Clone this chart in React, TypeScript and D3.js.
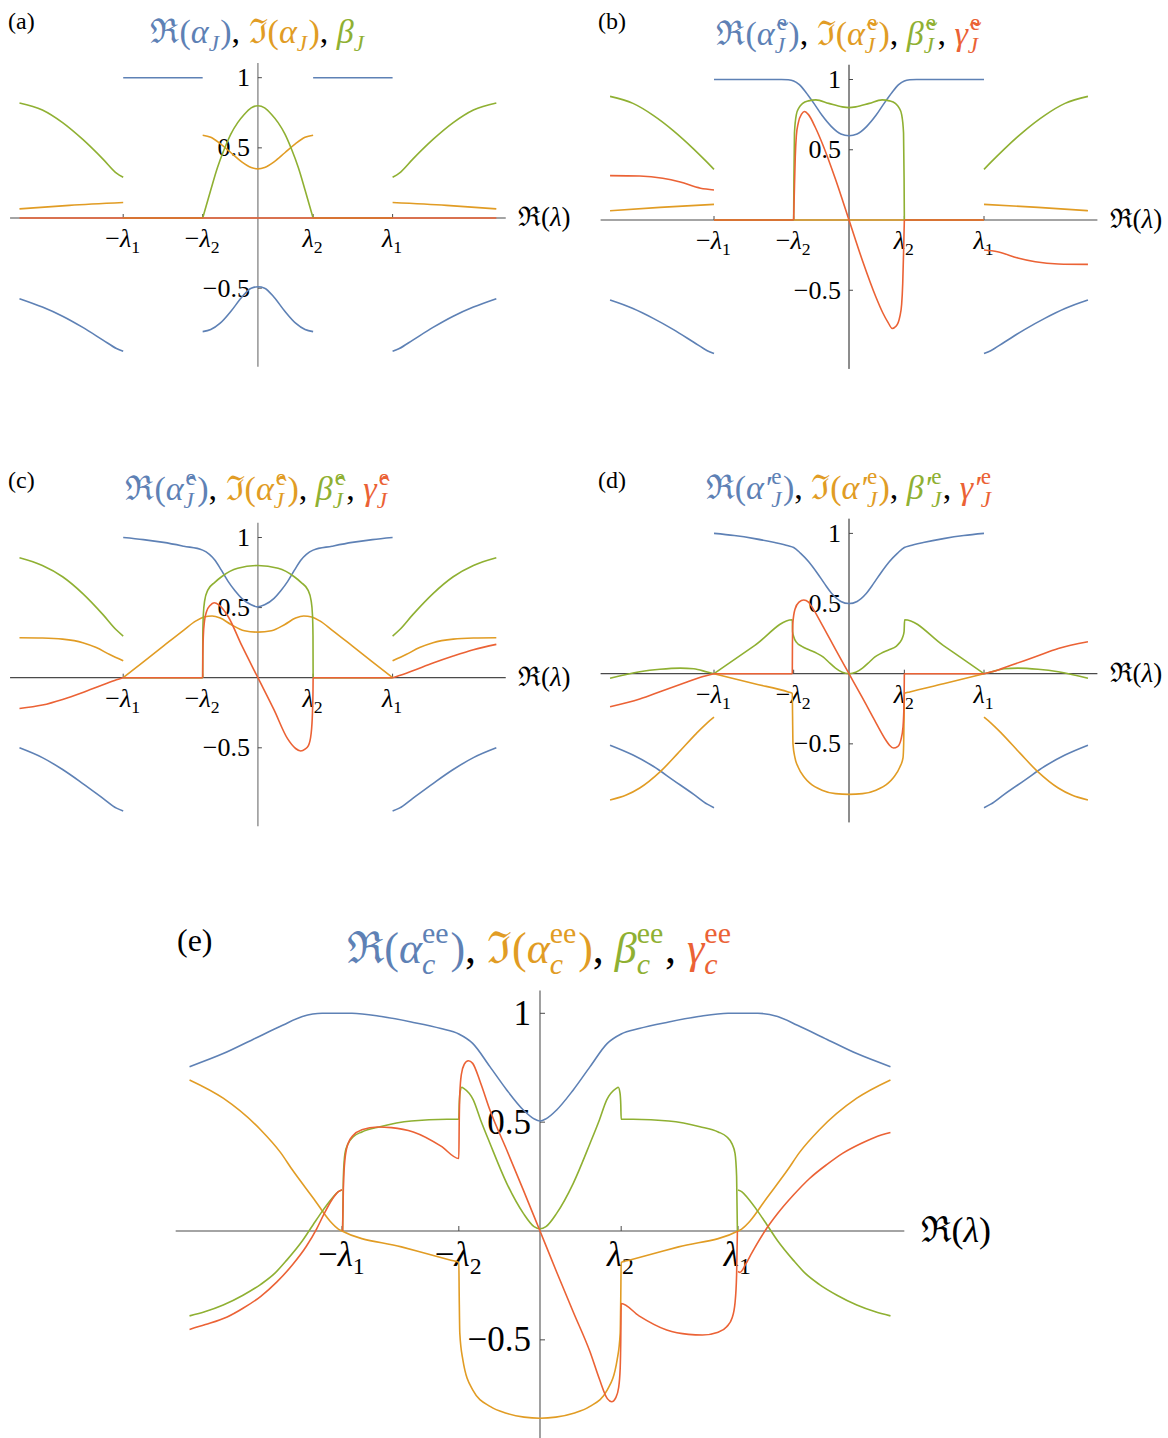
import React, { useEffect, useRef } from 'react';
import * as d3 from 'd3';

type Pt = [number, number];
type Piece = { t: string; c?: string; it?: boolean; sup?: string; sub?: string; subIt?: boolean; acc?: boolean };

const BLUE = '#5E81B5';
const ORANGE = '#E19C24';
const GREEN = '#8FB032';
const RED = '#EB6235';
const INK = '#000';
const FONT = '"Liberation Serif", "DejaVu Serif", serif';
const SEP = ',\u00A0';

// x is measured in units of lambda_1; lambda_2 sits at about 0.41 of it
const LAM2 = 0.41;
const xTickValues = [-1, -LAM2, LAM2, 1];
const xTickSigns = ['−', '−', '', ''];
const xTickSubs = ['1', '2', '2', '1'];
const yTickValues = [1, 0.5, -0.5];
const yTickLabels = ['1', '0.5', '−0.5'];

// ---- panel (a)
const aBlue: Pt[][] = [
  [[-1.77, -0.575], [-1.6, -0.635], [-1.45, -0.7], [-1.3, -0.78], [-1.15, -0.87], [-1.05, -0.93], [-1, -0.95]],
  [[-1, 1], [-0.41, 1]],
  [[-0.41, -0.81], [-0.35, -0.795], [-0.28, -0.75], [-0.2, -0.665], [-0.12, -0.565], [-0.05, -0.5], [0, -0.49],
   [0.05, -0.5], [0.12, -0.565], [0.2, -0.665], [0.28, -0.75], [0.35, -0.795], [0.41, -0.81]],
  [[0.41, 1], [1, 1]],
  [[1, -0.95], [1.05, -0.93], [1.15, -0.87], [1.3, -0.78], [1.45, -0.7], [1.6, -0.635], [1.77, -0.575]],
];
const aOrange: Pt[][] = [
  [[-1.77, 0.065], [-1.4, 0.09], [-1, 0.11]],
  [[-1, 0], [-0.41, 0]],
  [[-0.41, 0.59], [-0.35, 0.575], [-0.28, 0.53], [-0.2, 0.465], [-0.12, 0.4], [-0.05, 0.36], [0, 0.35],
   [0.05, 0.36], [0.12, 0.4], [0.2, 0.465], [0.28, 0.53], [0.35, 0.575], [0.41, 0.59]],
  [[0.41, 0], [1, 0]],
  [[1, 0.11], [1.4, 0.09], [1.77, 0.065]],
];
const aGreen: Pt[][] = [
  [[-1.77, 0.82], [-1.6, 0.77], [-1.45, 0.68], [-1.3, 0.56], [-1.15, 0.42], [-1.05, 0.32], [-1, 0.29]],
  [[-1, 0], [-0.41, 0]],
  [[-0.41, 0], [-0.35, 0.2], [-0.3, 0.36], [-0.25, 0.49], [-0.2, 0.6], [-0.15, 0.68], [-0.1, 0.74], [-0.05, 0.785], [0, 0.8],
   [0.05, 0.785], [0.1, 0.74], [0.15, 0.68], [0.2, 0.6], [0.25, 0.49], [0.3, 0.36], [0.35, 0.2], [0.41, 0]],
  [[0.41, 0], [1, 0]],
  [[1, 0.29], [1.05, 0.32], [1.15, 0.42], [1.3, 0.56], [1.45, 0.68], [1.6, 0.77], [1.77, 0.82]],
];
const aRed: Pt[][] = [[[-1.77, 0], [1.77, 0]]];

// ---- panel (b)
const bBlue: Pt[][] = [
  [[-1.77, -0.57], [-1.6, -0.63], [-1.45, -0.7], [-1.3, -0.78], [-1.15, -0.87], [-1.05, -0.93], [-1, -0.95]],
  [[-1, 1], [-0.5, 1], [-0.45, 0.998], [-0.41, 0.99], [-0.37, 0.965], [-0.32, 0.91], [-0.26, 0.83], [-0.2, 0.745],
   [-0.13, 0.665], [-0.06, 0.612], [0, 0.6], [0.06, 0.612], [0.13, 0.665], [0.2, 0.745], [0.26, 0.83], [0.32, 0.91],
   [0.37, 0.965], [0.41, 0.99], [0.45, 0.998], [0.5, 1], [1, 1]],
  [[1, -0.95], [1.05, -0.93], [1.15, -0.87], [1.3, -0.78], [1.45, -0.7], [1.6, -0.63], [1.77, -0.57]],
];
const bOrange: Pt[][] = [
  [[-1.77, 0.066], [-1.4, 0.09], [-1, 0.111]],
  [[-1, 0], [1, 0]],
  [[1, 0.111], [1.4, 0.09], [1.77, 0.066]],
];
const bGreen: Pt[][] = [
  [[-1.77, 0.88], [-1.6, 0.83], [-1.45, 0.745], [-1.3, 0.635], [-1.15, 0.505], [-1.05, 0.41], [-1, 0.36]],
  [[-1, 0], [-0.41, 0]],
  [[-0.41, 0], [-0.408, 0.3], [-0.404, 0.62], [-0.39, 0.75], [-0.37, 0.8], [-0.343, 0.83], [-0.3, 0.848],
   [-0.245, 0.855], [-0.15, 0.83], [-0.05, 0.805], [0, 0.8], [0.05, 0.805], [0.15, 0.83], [0.245, 0.855],
   [0.3, 0.848], [0.343, 0.83], [0.37, 0.8], [0.39, 0.75], [0.404, 0.62], [0.408, 0.3], [0.41, 0]],
  [[0.41, 0], [1, 0]],
  [[1, 0.36], [1.05, 0.41], [1.15, 0.505], [1.3, 0.635], [1.45, 0.745], [1.6, 0.83], [1.77, 0.88]],
];
const bRed: Pt[][] = [
  [[-1.77, 0.316], [-1.55, 0.313], [-1.38, 0.297], [-1.25, 0.27], [-1.1, 0.226], [-1, 0.214]],
  [[-1, 0], [-0.41, 0]],
  [[-0.41, 0], [-0.405, 0.2], [-0.398, 0.45], [-0.39, 0.6], [-0.376, 0.69], [-0.35, 0.755], [-0.33, 0.772],
   [-0.3, 0.75], [-0.25, 0.66], [-0.2, 0.55], [-0.1, 0.29], [0, 0], [0.1, -0.29], [0.2, -0.55], [0.25, -0.66],
   [0.29, -0.73], [0.32, -0.772], [0.35, -0.755], [0.376, -0.69], [0.39, -0.6], [0.398, -0.45], [0.405, -0.2], [0.41, 0]],
  [[0.41, 0], [1, 0]],
  [[1, -0.214], [1.1, -0.226], [1.25, -0.27], [1.38, -0.297], [1.55, -0.313], [1.77, -0.316]],
];

// ---- panel (c)
const cBlue: Pt[][] = [
  [[-1.77, -0.5], [-1.6, -0.57], [-1.45, -0.655], [-1.3, -0.755], [-1.15, -0.86], [-1.05, -0.93], [-1, -0.95]],
  [[-1, 1], [-0.85, 0.985], [-0.7, 0.965], [-0.55, 0.938], [-0.41, 0.91], [-0.36, 0.88], [-0.32, 0.84], [-0.27, 0.765],
   [-0.22, 0.685], [-0.17, 0.62], [-0.12, 0.566], [-0.05, 0.52], [0, 0.505], [0.05, 0.52], [0.12, 0.566], [0.17, 0.62],
   [0.22, 0.685], [0.27, 0.765], [0.32, 0.84], [0.36, 0.88], [0.41, 0.91], [0.55, 0.938], [0.7, 0.965], [0.85, 0.985], [1, 1]],
  [[1, -0.95], [1.05, -0.93], [1.15, -0.86], [1.3, -0.755], [1.45, -0.655], [1.6, -0.57], [1.77, -0.5]],
];
const cOrange: Pt[][] = [
  [[-1.77, 0.285], [-1.6, 0.283], [-1.45, 0.275], [-1.3, 0.25], [-1.2, 0.215], [-1.1, 0.165], [-1, 0.12]],
  [[-1, 0], [-0.85, 0.113], [-0.7, 0.227], [-0.55, 0.34], [-0.46, 0.405], [-0.4, 0.433], [-0.34, 0.44], [-0.28, 0.425],
   [-0.2, 0.38], [-0.1, 0.335], [0, 0.325], [0.1, 0.335], [0.2, 0.38], [0.28, 0.425], [0.34, 0.44], [0.4, 0.433],
   [0.46, 0.405], [0.55, 0.34], [0.7, 0.227], [0.85, 0.113], [1, 0]],
  [[1, 0.12], [1.1, 0.165], [1.2, 0.215], [1.3, 0.25], [1.45, 0.275], [1.6, 0.283], [1.77, 0.285]],
];
const cGreen: Pt[][] = [
  [[-1.77, 0.855], [-1.6, 0.8], [-1.45, 0.72], [-1.3, 0.6], [-1.15, 0.45], [-1.05, 0.34], [-1, 0.297]],
  [[-1, 0], [-0.41, 0]],
  [[-0.41, 0], [-0.409, 0.3], [-0.405, 0.45], [-0.395, 0.55], [-0.372, 0.625], [-0.32, 0.68], [-0.27, 0.72],
   [-0.15, 0.78], [0, 0.8], [0.15, 0.78], [0.27, 0.72], [0.32, 0.68], [0.372, 0.625], [0.395, 0.55], [0.405, 0.45],
   [0.409, 0.3], [0.41, 0]],
  [[0.41, 0], [1, 0]],
  [[1, 0.297], [1.05, 0.34], [1.15, 0.45], [1.3, 0.6], [1.45, 0.72], [1.6, 0.8], [1.77, 0.855]],
];
const cRed: Pt[][] = [
  [[-1.77, -0.22], [-1.6, -0.195], [-1.45, -0.155], [-1.3, -0.105], [-1.15, -0.05], [-1.05, -0.015], [-1, 0]],
  [[-1, 0], [-0.41, 0]],
  [[-0.41, 0], [-0.409, 0.15], [-0.405, 0.3], [-0.397, 0.4], [-0.38, 0.475], [-0.355, 0.515], [-0.325, 0.535],
   [-0.29, 0.52], [-0.22, 0.435], [-0.12, 0.23], [0, 0], [0.12, -0.23], [0.22, -0.435], [0.28, -0.505],
   [0.318, -0.523], [0.35, -0.51], [0.375, -0.485], [0.395, -0.4], [0.405, -0.25], [0.409, -0.1], [0.41, 0]],
  [[0.41, 0], [1, 0]],
  [[1, 0], [1.05, 0.015], [1.15, 0.05], [1.3, 0.105], [1.45, 0.155], [1.6, 0.2], [1.77, 0.238]],
];

// ---- panel (d)
const dBlue: Pt[][] = [
  [[-1.77, -0.51], [-1.6, -0.58], [-1.45, -0.66], [-1.3, -0.76], [-1.15, -0.86], [-1.05, -0.93], [-1, -0.955]],
  [[-1, 1], [-0.85, 0.985], [-0.7, 0.963], [-0.55, 0.935], [-0.45, 0.912], [-0.41, 0.9], [-0.36, 0.86],
   [-0.3, 0.8], [-0.237, 0.72], [-0.18, 0.64], [-0.126, 0.57], [-0.06, 0.515], [0, 0.5], [0.06, 0.515],
   [0.126, 0.57], [0.18, 0.64], [0.237, 0.72], [0.3, 0.8], [0.36, 0.86], [0.41, 0.9], [0.45, 0.912],
   [0.55, 0.935], [0.7, 0.963], [0.85, 0.985], [1, 1]],
  [[1, -0.955], [1.05, -0.93], [1.15, -0.86], [1.3, -0.76], [1.45, -0.66], [1.6, -0.58], [1.77, -0.51]],
];
const dOrange: Pt[][] = [
  [[-1.77, -0.9], [-1.65, -0.865], [-1.55, -0.815], [-1.4, -0.7], [-1.27, -0.57], [-1.13, -0.425], [-1.05, -0.35], [-1, -0.31]],
  [[-1, 0], [-0.7, -0.072], [-0.45, -0.13], [-0.42, -0.14], [-0.418, -0.3], [-0.415, -0.5], [-0.4, -0.6],
   [-0.377, -0.665], [-0.33, -0.74], [-0.29, -0.78], [-0.2, -0.83], [-0.1, -0.855], [0, -0.86], [0.1, -0.855],
   [0.2, -0.83], [0.29, -0.78], [0.33, -0.74], [0.377, -0.665], [0.4, -0.6], [0.405, -0.5], [0.408, -0.3],
   [0.41, -0.14], [0.45, -0.13], [0.7, -0.072], [1, 0]],
  [[1, -0.31], [1.05, -0.35], [1.13, -0.425], [1.27, -0.57], [1.4, -0.7], [1.55, -0.815], [1.65, -0.865], [1.77, -0.9]],
];
const dGreen: Pt[][] = [
  [[-1.77, -0.033], [-1.55, 0.014], [-1.4, 0.032], [-1.25, 0.04], [-1.15, 0.035], [-1.05, 0.012], [-1, 0]],
  [[-1, 0], [-0.7, 0.2], [-0.42, 0.385], [-0.418, 0.3], [-0.41, 0.265], [-0.39, 0.225], [-0.349, 0.195],
   [-0.3, 0.172], [-0.237, 0.145], [-0.19, 0.118], [-0.153, 0.085], [-0.1, 0.04], [-0.05, 0.01], [0, 0],
   [0.05, 0.01], [0.1, 0.04], [0.153, 0.085], [0.19, 0.118], [0.237, 0.145], [0.3, 0.172], [0.349, 0.195],
   [0.376, 0.222], [0.398, 0.262], [0.408, 0.3], [0.412, 0.385], [0.7, 0.2], [1, 0]],
  [[1, 0], [1.05, 0.012], [1.15, 0.035], [1.25, 0.04], [1.4, 0.032], [1.55, 0.014], [1.77, -0.033]],
];
const dRed: Pt[][] = [
  [[-1.77, -0.235], [-1.55, -0.18], [-1.38, -0.121], [-1.2, -0.06], [-1.1, -0.025], [-1, 0]],
  [[-1, 0], [-0.42, 0]],
  [[-0.42, 0], [-0.419, 0.2], [-0.416, 0.36], [-0.4, 0.46], [-0.37, 0.51], [-0.335, 0.525], [-0.3, 0.51],
   [-0.276, 0.478], [-0.2, 0.35], [-0.1, 0.173], [0, 0], [0.1, -0.173], [0.2, -0.35], [0.276, -0.478],
   [0.3, -0.51], [0.33, -0.53], [0.36, -0.52], [0.385, -0.47], [0.4, -0.38], [0.408, -0.2], [0.41, 0]],
  [[0.41, 0], [1, 0]],
  [[1, 0], [1.1, 0.025], [1.2, 0.06], [1.38, 0.121], [1.55, 0.18], [1.77, 0.228]],
];

// ---- panel (e)
const eBlue: Pt[][] = [
  [[-1.77, 0.755], [-1.6, 0.815], [-1.45, 0.88], [-1.3, 0.945], [-1.2, 0.985], [-1.1, 1], [-0.95, 1], [-0.8, 0.985],
   [-0.65, 0.96], [-0.5, 0.93], [-0.41, 0.905], [-0.34, 0.862], [-0.253, 0.755], [-0.168, 0.648], [-0.084, 0.556],
   [-0.03, 0.515], [0, 0.505], [0.03, 0.515], [0.084, 0.556], [0.168, 0.648], [0.253, 0.755], [0.34, 0.862],
   [0.41, 0.905], [0.5, 0.93], [0.65, 0.96], [0.8, 0.985], [0.95, 1], [1.1, 1], [1.2, 0.985], [1.3, 0.945],
   [1.45, 0.88], [1.6, 0.815], [1.77, 0.755]],
];
const eOrange: Pt[][] = [
  [[-1.77, 0.694], [-1.6, 0.61], [-1.41, 0.464], [-1.31, 0.36], [-1.25, 0.28], [-1.14, 0.145], [-1.06, 0.045],
   [-1.02, 0.01], [-1, 0], [-0.7, -0.073], [-0.45, -0.134], [-0.41, -0.144], [-0.408, -0.3], [-0.405, -0.47],
   [-0.39, -0.59], [-0.34, -0.73], [-0.25, -0.807], [-0.17, -0.837], [-0.08, -0.855], [0, -0.86], [0.08, -0.855],
   [0.17, -0.837], [0.25, -0.807], [0.34, -0.73], [0.39, -0.59], [0.405, -0.47], [0.408, -0.3], [0.41, -0.144],
   [0.45, -0.134], [0.7, -0.073], [1, 0], [1.02, 0.01], [1.06, 0.045], [1.14, 0.145], [1.25, 0.28], [1.31, 0.36],
   [1.41, 0.464], [1.6, 0.61], [1.77, 0.694]],
];
const eGreen: Pt[][] = [
  [[-1.77, -0.39], [-1.69, -0.37], [-1.6, -0.34], [-1.5, -0.295], [-1.41, -0.245], [-1.34, -0.195], [-1.28, -0.135],
   [-1.2, -0.045], [-1.145, 0.03], [-1.1, 0.09], [-1.05, 0.15], [-1.02, 0.18], [-1, 0.188]],
  [[-0.997, 0], [-0.993, 0.25], [-0.985, 0.357], [-0.97, 0.4], [-0.943, 0.433], [-0.9, 0.455], [-0.808, 0.479],
   [-0.65, 0.505], [-0.47, 0.513], [-0.41, 0.513], [-0.408, 0.58], [-0.404, 0.635], [-0.395, 0.66], [-0.385, 0.655],
   [-0.337, 0.602], [-0.3, 0.51], [-0.253, 0.403], [-0.168, 0.219], [-0.084, 0.081], [-0.03, 0.02], [0, 0.01],
   [0.03, 0.02], [0.084, 0.081], [0.168, 0.219], [0.253, 0.403], [0.3, 0.51], [0.337, 0.602], [0.385, 0.655],
   [0.395, 0.66], [0.404, 0.635], [0.408, 0.58], [0.41, 0.513], [0.47, 0.513], [0.65, 0.505], [0.808, 0.479],
   [0.9, 0.455], [0.943, 0.433], [0.97, 0.4], [0.985, 0.357], [0.993, 0.25], [0.997, 0]],
  [[1, 0.188], [1.02, 0.18], [1.05, 0.15], [1.1, 0.09], [1.145, 0.03], [1.2, -0.045], [1.28, -0.135], [1.34, -0.195],
   [1.41, -0.245], [1.5, -0.295], [1.6, -0.34], [1.69, -0.37], [1.77, -0.39]],
];
const eRed: Pt[][] = [
  [[-1.77, -0.452], [-1.69, -0.43], [-1.58, -0.395], [-1.5, -0.355], [-1.41, -0.3], [-1.33, -0.235], [-1.25, -0.155],
   [-1.18, -0.07], [-1.128, 0.01], [-1.09, 0.08], [-1.05, 0.145], [-1.02, 0.18], [-1, 0.19]],
  [[-0.997, 0], [-0.993, 0.2], [-0.985, 0.33], [-0.97, 0.4], [-0.943, 0.44], [-0.9, 0.465], [-0.82, 0.478],
   [-0.75, 0.475], [-0.64, 0.455], [-0.5, 0.39], [-0.41, 0.333], [-0.408, 0.5], [-0.405, 0.63], [-0.397, 0.72],
   [-0.383, 0.765], [-0.362, 0.782], [-0.34, 0.77], [-0.3, 0.68], [-0.253, 0.556], [-0.168, 0.372], [-0.084, 0.188],
   [0, 0], [0.084, -0.188], [0.168, -0.372], [0.253, -0.556], [0.3, -0.68], [0.34, -0.77], [0.362, -0.784],
   [0.383, -0.765], [0.397, -0.72], [0.405, -0.63], [0.408, -0.5], [0.41, -0.333], [0.5, -0.39], [0.64, -0.455],
   [0.75, -0.475], [0.82, -0.478], [0.9, -0.465], [0.943, -0.44], [0.97, -0.4], [0.985, -0.33], [0.993, -0.2], [0.997, 0]],
  [[1, -0.185], [1.01, -0.19], [1.04, -0.15], [1.07, -0.1], [1.136, 0], [1.2, 0.08], [1.28, 0.165], [1.36, 0.24],
   [1.448, 0.305], [1.53, 0.358], [1.616, 0.4], [1.69, 0.43], [1.77, 0.452]],
];

// ---- titles
const titleA: Piece[] = [
  { t: 'ℜ(', c: BLUE }, { t: 'α', c: BLUE, it: true, sub: 'J', subIt: true }, { t: ')', c: BLUE }, { t: SEP },
  { t: 'ℑ(', c: ORANGE }, { t: 'α', c: ORANGE, it: true, sub: 'J', subIt: true }, { t: ')', c: ORANGE }, { t: SEP },
  { t: 'β', c: GREEN, it: true, sub: 'J', subIt: true },
];
const titleB: Piece[] = [
  { t: 'ℜ(', c: BLUE }, { t: 'α\u0303', c: BLUE, it: true, sup: 'e', sub: 'J', subIt: true, acc: true }, { t: ')', c: BLUE }, { t: SEP },
  { t: 'ℑ(', c: ORANGE }, { t: 'α\u0303', c: ORANGE, it: true, sup: 'e', sub: 'J', subIt: true, acc: true }, { t: ')', c: ORANGE }, { t: SEP },
  { t: 'β\u0303', c: GREEN, it: true, sup: 'e', sub: 'J', subIt: true, acc: true }, { t: SEP },
  { t: 'γ\u0303', c: RED, it: true, sup: 'e', sub: 'J', subIt: true, acc: true },
];
const titleC: Piece[] = [
  { t: 'ℜ(', c: BLUE }, { t: 'α\u0302', c: BLUE, it: true, sup: 'e', sub: 'J', subIt: true, acc: true }, { t: ')', c: BLUE }, { t: SEP },
  { t: 'ℑ(', c: ORANGE }, { t: 'α\u0302', c: ORANGE, it: true, sup: 'e', sub: 'J', subIt: true, acc: true }, { t: ')', c: ORANGE }, { t: SEP },
  { t: 'β\u0302', c: GREEN, it: true, sup: 'e', sub: 'J', subIt: true, acc: true }, { t: SEP },
  { t: 'γ\u0302', c: RED, it: true, sup: 'e', sub: 'J', subIt: true, acc: true },
];
const titleD: Piece[] = [
  { t: 'ℜ(', c: BLUE }, { t: 'α′', c: BLUE, it: true, sup: 'e', sub: 'J', subIt: true }, { t: ')', c: BLUE }, { t: SEP },
  { t: 'ℑ(', c: ORANGE }, { t: 'α′', c: ORANGE, it: true, sup: 'e', sub: 'J', subIt: true }, { t: ')', c: ORANGE }, { t: SEP },
  { t: 'β′', c: GREEN, it: true, sup: 'e', sub: 'J', subIt: true }, { t: SEP },
  { t: 'γ′', c: RED, it: true, sup: 'e', sub: 'J', subIt: true },
];
const titleE: Piece[] = [
  { t: 'ℜ(', c: BLUE }, { t: 'α', c: BLUE, it: true, sup: 'ee', sub: 'c', subIt: true }, { t: ')', c: BLUE }, { t: SEP },
  { t: 'ℑ(', c: ORANGE }, { t: 'α', c: ORANGE, it: true, sup: 'ee', sub: 'c', subIt: true }, { t: ')', c: ORANGE }, { t: SEP },
  { t: 'β', c: GREEN, it: true, sup: 'ee', sub: 'c', subIt: true }, { t: SEP },
  { t: 'γ', c: RED, it: true, sup: 'ee', sub: 'c', subIt: true },
];

const X_AX = 1.84;
const Y_TOP = 1.105;
const Y_BOT = -1.06;
const COLORS = [BLUE, ORANGE, GREEN, RED];

const panels = [
  { label: '(a)', lx: 8, ly: 29, cx: 257.9, cy: 218, xu: 134.7, yu: 140.3, ty: 43, title: titleA,
    series: [aBlue, aOrange, aGreen, aRed], vCol: '#8c8c8c', vW: 1.4, fs: 26, tfs: 34, lfs: 24, afs: 27, xlOff: 29, tick: 4 },
  { label: '(b)', lx: 598, ly: 29, cx: 849, cy: 220, xu: 135, yu: 140.5, ty: 45, title: titleB,
    series: [bBlue, bOrange, bGreen, bRed], vCol: '#1a1a1a', vW: 1, fs: 26, tfs: 34, lfs: 24, afs: 27, xlOff: 29, tick: 4 },
  { label: '(c)', lx: 8, ly: 488, cx: 257.9, cy: 677.7, xu: 134.7, yu: 140.2, ty: 500, title: titleC,
    series: [cBlue, cOrange, cGreen, cRed], vCol: '#8c8c8c', vW: 1.4, fs: 26, tfs: 34, lfs: 24, afs: 27, xlOff: 29, tick: 4 },
  { label: '(d)', lx: 598, ly: 488, cx: 849, cy: 673.7, xu: 135, yu: 140.3, ty: 499, title: titleD,
    series: [dBlue, dOrange, dGreen, dRed], vCol: '#1a1a1a', vW: 1, fs: 26, tfs: 34, lfs: 24, afs: 27, xlOff: 29, tick: 4 },
  { label: '(e)', lx: 177, ly: 951, cx: 540, cy: 1231, xu: 198, yu: 217.7, ty: 963, title: titleE,
    series: [eBlue, eOrange, eGreen, eRed], vCol: '#6e6e6e', vW: 1.3, fs: 35, tfs: 44, lfs: 32, afs: 36, xlOff: 35, tick: 5 },
];

// lays pieces of text side by side, measuring each one; sup and sub share the same x
function rich(parent: any, pieces: Piece[], fs: number, x0: number, y0: number, anchor: 'middle' | 'start') {
  const g = parent.append('g').attr('font-family', FONT);
  let cur = 0;
  const put = (txt: string, size: number, dx: number, dy: number, col: string, it: boolean) => {
    const t = g.append('text')
      .attr('x', cur + dx).attr('y', dy)
      .attr('font-size', size)
      .attr('fill', col)
      .attr('font-style', it ? 'italic' : 'normal')
      .style('white-space', 'pre')
      .text(txt);
    return (t.node() as SVGTextElement).getComputedTextLength() + dx;
  };
  pieces.forEach(pc => {
    const col = pc.c ?? INK;
    if (pc.t) cur += put(pc.t, fs, 0, 0, col, !!pc.it);
    let w = 0;
    if (pc.sup) w = Math.max(w, put(pc.sup, fs * 0.68, pc.acc ? fs * 0.06 : 0, -0.45 * fs, col, false));
    if (pc.sub) w = Math.max(w, put(pc.sub, fs * 0.68, 0, 0.24 * fs, col, !!pc.subIt));
    cur += w + (pc.sup || pc.sub ? fs * 0.04 : 0);
  });
  const dx = anchor === 'middle' ? x0 - cur / 2 : x0;
  g.attr('transform', `translate(${dx},${y0})`);
}

function drawPanel(svg: any, p: typeof panels[number]) {
  const x = d3.scaleLinear().domain([-1, 1]).range([p.cx - p.xu, p.cx + p.xu]);
  const y = d3.scaleLinear().domain([-1, 1]).range([p.cy + p.yu, p.cy - p.yu]);
  const g = svg.append('g');

  // panel letter and title
  g.append('text')
    .attr('x', p.lx).attr('y', p.ly)
    .attr('font-family', FONT).attr('font-size', p.lfs)
    .text(p.label);
  rich(g, p.title, p.tfs, x(0), p.ty, 'middle');

  // tick labels sit under the curves
  g.selectAll('.yl')
    .data(yTickValues)
    .enter()
    .append('text')
    .attr('x', x(0) - p.tick - 4)
    .attr('y', (d: number) => y(d))
    .attr('text-anchor', 'end')
    .attr('dominant-baseline', 'central')
    .attr('font-family', FONT)
    .attr('font-size', p.fs)
    .text((_: number, i: number) => yTickLabels[i]);

  xTickValues.forEach((v, i) => {
    rich(g, [{ t: xTickSigns[i] }, { t: 'λ', it: true, sub: xTickSubs[i] }], p.fs, x(v), y(0) + p.xlOff, 'middle');
  });
  rich(g, [{ t: 'ℜ(' }, { t: 'λ', it: true }, { t: ')' }], p.afs, x(X_AX) + p.afs * 0.45, y(0) + p.afs * 0.3, 'start');

  // axes
  g.append('line')
    .attr('x1', x(-X_AX)).attr('x2', x(X_AX))
    .attr('y1', y(0)).attr('y2', y(0))
    .attr('stroke', '#4a4a4a').attr('stroke-width', 1.2);
  g.append('line')
    .attr('x1', x(0)).attr('x2', x(0))
    .attr('y1', y(Y_TOP)).attr('y2', y(Y_BOT))
    .attr('stroke', p.vCol).attr('stroke-width', p.vW);

  g.selectAll('.xt')
    .data(xTickValues)
    .enter()
    .append('line')
    .attr('x1', (d: number) => x(d)).attr('x2', (d: number) => x(d))
    .attr('y1', y(0)).attr('y2', y(0) - p.tick)
    .attr('stroke', '#4a4a4a').attr('stroke-width', 1);
  g.selectAll('.yt')
    .data(yTickValues)
    .enter()
    .append('line')
    .attr('x1', x(0)).attr('x2', x(0) + p.tick)
    .attr('y1', (d: number) => y(d)).attr('y2', (d: number) => y(d))
    .attr('stroke', '#4a4a4a').attr('stroke-width', 1);

  // curves
  const line = d3.line<Pt>()
    .x(d => x(d[0]))
    .y(d => y(d[1]))
    .curve(d3.curveMonotoneX);

  p.series.forEach((segs, si) => {
    g.selectAll(null)
      .data(segs)
      .enter()
      .append('path')
      .attr('d', (d: Pt[]) => line(d))
      .attr('fill', 'none')
      .attr('stroke', COLORS[si])
      .attr('stroke-width', 1.6)
      .attr('stroke-linejoin', 'round')
      .attr('stroke-linecap', 'butt');
  });
}

const App = () => {
  const ref = useRef<SVGSVGElement>(null);

  useEffect(() => {
    const svg = d3.select(ref.current);
    svg.selectAll('*').remove();
    panels.forEach(p => drawPanel(svg, p));
  }, []);

  return (
    <svg
      ref={ref}
      width={1168}
      height={1438}
      style={{ position: 'absolute', left: 0, top: 0, background: '#fff' }}
    />
  );
};

export default App;
